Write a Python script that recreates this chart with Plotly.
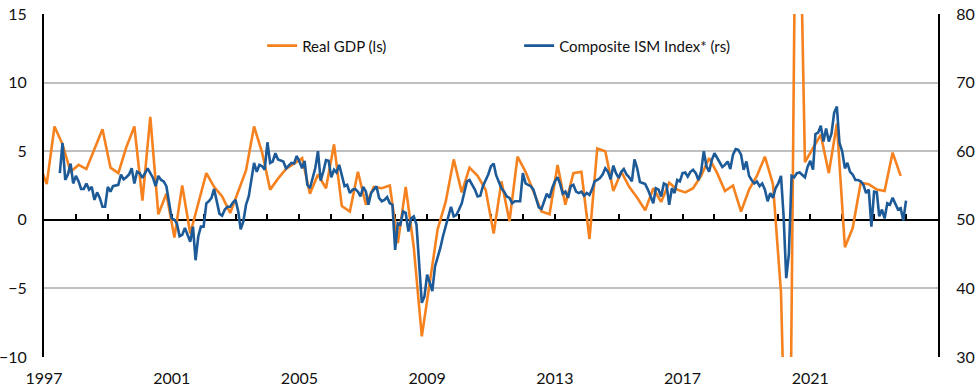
import pandas as pd
import plotly.graph_objects as go

# ---------------- data ----------------
gdp_start_quarter = "1996Q4"
gdp_growth = [
    4.2,
    2.6, 6.8, 5.5, 3.5,      # 1997
    4.0, 3.7, 5.1, 6.6,      # 1998
    3.8, 3.4, 5.3, 6.8,      # 1999
    1.4, 7.5, 0.4, 1.9,      # 2000
    -1.3, 2.5, -1.0, 1.3,    # 2001
    3.4, 2.4, 1.7, 0.5,      # 2002
    2.0, 3.6, 6.8, 4.9,      # 2003
    2.2, 3.0, 3.7, 4.1,      # 2004
    4.5, 1.9, 3.3, 2.3,      # 2005
    5.5, 1.0, 0.6, 3.5,      # 2006
    1.1, 2.4, 2.3, 2.5,      # 2007
    -1.7, 2.4, -2.0, -8.5,   # 2008
    -4.6, -0.7, 1.3, 4.4,    # 2009
    2.0, 3.8, 3.2, 2.2,      # 2010
    -1.0, 2.8, -0.1, 4.6,    # 2011
    3.5, 2.0, 0.6, 0.4,      # 2012
    4.0, 1.1, 3.4, 3.5,      # 2013
    -1.4, 5.2, 5.0, 2.1,     # 2014
    3.5, 2.4, 1.6, 0.7,      # 2015
    2.3, 1.3, 2.7, 2.2,      # 2016
    2.0, 2.3, 3.2, 4.5,      # 2017
    3.4, 2.1, 2.5, 0.6,      # 2018
    2.2, 3.2, 4.6, 2.6,      # 2019
    -5.3, -28.0, 34.8, 4.2,  # 2020
    5.2, 6.2, 3.4, 7.0,      # 2021
    -2.0, -0.6, 2.7, 2.6,    # 2022
    2.2, 2.1, 4.9, 3.2,      # 2023
]

ism_start_month = "1997-07"
ism_composite = [
    56.8, 61.2, 55.8, 56.6, 58.2, 55.3,                                  # 1997 H2
    56.4, 55.6, 54.5, 54.5, 55.3, 54.4, 54.8, 52.9, 54.0, 53.2, 51.9, 51.9,  # 1998
    54.8, 54.1, 54.9, 55.0, 55.1, 56.6, 55.9, 56.2, 56.6, 57.5, 55.3, 57.0,  # 1999
    56.8, 56.1, 56.8, 57.5, 56.8, 56.1, 54.9, 56.4, 55.8, 55.6, 54.9, 52.7,  # 2000
    50.2, 50.0, 49.5, 47.6, 47.8, 48.8, 47.8, 46.8, 49.0, 44.1, 47.6, 49.0,  # 2001
    49.0, 52.4, 52.7, 53.2, 54.5, 52.4, 50.9, 50.6, 51.5, 51.9, 51.9, 52.5,  # 2002
    52.9, 51.2, 48.6, 49.8, 52.2, 53.4, 56.2, 58.3, 57.0, 58.0, 57.8, 57.3,  # 2003
    61.3, 58.3, 58.5, 59.7, 58.8, 58.7, 58.5, 57.5, 57.9, 58.3, 58.2, 59.3,  # 2004
    58.5, 57.5, 58.6, 55.1, 54.6, 56.2, 57.5, 60.0, 55.7, 57.0, 58.7, 58.6,  # 2005
    56.2, 57.3, 56.9, 58.0, 56.3, 54.9, 55.1, 53.9, 54.4, 54.5, 54.1, 53.4,  # 2006
    54.8, 54.1, 52.2, 53.9, 54.4, 54.9, 53.2, 52.7, 52.9, 53.3, 52.4, 52.2,  # 2007
    45.6, 49.5, 49.3, 51.2, 51.0, 48.3, 50.2, 50.5, 49.3, 43.2, 37.9, 38.8,  # 2008
    42.0, 40.8, 39.6, 43.2, 44.4, 45.9, 47.6, 49.0, 50.2, 51.9, 50.5, 50.7,  # 2009
    51.5, 52.4, 53.9, 55.6, 55.8, 55.1, 54.4, 53.4, 53.5, 54.9, 55.8, 56.6,  # 2010
    57.8, 58.2, 56.5, 55.5, 54.6, 54.1, 53.4, 53.2, 52.4, 52.7, 52.7, 52.7,  # 2011
    56.8, 55.3, 55.1, 54.9, 54.4, 52.9, 51.8, 51.6, 52.9, 53.8, 53.2, 54.6,  # 2012
    55.6, 56.2, 55.3, 53.8, 54.1, 53.2, 54.9, 55.1, 54.1, 53.9, 54.1, 53.5,  # 2013
    53.9, 53.6, 54.4, 55.6, 55.8, 56.1, 56.6, 57.5, 57.0, 55.9, 57.9, 56.8,  # 2014
    56.1, 57.0, 57.4, 56.6, 56.2, 55.6, 58.8, 57.5, 55.5, 55.4, 55.2, 54.4,  # 2015
    53.4, 52.4, 54.6, 54.4, 53.4, 55.3, 55.1, 52.2, 54.6, 53.9, 55.8, 55.6,  # 2016
    56.8, 56.9, 56.3, 57.0, 57.3, 56.8, 55.8, 57.0, 60.0, 57.8, 57.0, 58.7,  # 2017
    59.7, 59.0, 58.3, 57.7, 58.0, 58.5, 57.4, 59.5, 60.3, 60.2, 59.5, 57.3,  # 2018
    58.5, 56.4, 55.8, 55.3, 55.6, 54.9, 55.3, 54.4, 52.7, 53.9, 53.2, 54.6,  # 2019
    55.3, 56.4, 50.7, 41.5, 45.0, 56.4, 56.2, 56.8, 56.9, 56.6, 56.2, 57.7,  # 2020
    58.6, 57.3, 62.5, 62.7, 63.7, 61.4, 63.3, 61.4, 62.6, 65.6, 66.5, 61.2,  # 2021
    60.0, 57.5, 58.3, 57.0, 56.6, 55.8, 55.8, 55.6, 55.1, 53.9, 54.4, 49.0,  # 2022
    54.1, 54.0, 50.5, 51.5, 50.2, 52.4, 52.2, 53.2, 52.4, 51.5, 51.7, 49.9,  # 2023
    52.8,                                                                # 2024
]

year_labels = [1997, 2001, 2005, 2009, 2013, 2017, 2021]
gdp_name = "Real GDP (ls)"
ism_name = "Composite ISM Index* (rs)"

# ---------------- dates ----------------
quarters = pd.period_range(gdp_start_quarter, periods=len(gdp_growth), freq="Q")
gdp_dates = [(q.asfreq("M", "start") + 1).to_timestamp() for q in quarters]
ism_dates = pd.period_range(ism_start_month, periods=len(ism_composite), freq="M").to_timestamp()

ORANGE = "#F5821F"
BLUE = "#1D5A98"
FONT = "Lato, 'Open Sans', sans-serif"

fig = go.Figure()
fig.add_trace(go.Scatter(
    x=gdp_dates, y=gdp_growth, name=gdp_name, mode="lines",
    line=dict(color=ORANGE, width=2.6), xaxis="x", yaxis="y",
))
fig.add_trace(go.Scatter(
    x=ism_dates, y=ism_composite, name=ism_name, mode="lines",
    line=dict(color=BLUE, width=2.6), xaxis="x2", yaxis="y2",
))

x_range = ["1997-01-01", "2025-01-01"]

fig.update_layout(
    width=979, height=389,
    margin=dict(l=44, r=41, t=14, b=32, autoexpand=False),
    paper_bgcolor="white", plot_bgcolor="white",
    font=dict(family=FONT, size=16, color="#111111"),
    showlegend=True,
    legend=dict(
        orientation="h", x=0.244, xanchor="left", y=0.907, yanchor="middle",
        font=dict(family=FONT, size=15, color="#111111"),
        bgcolor="rgba(0,0,0,0)", entrywidth=212, entrywidthmode="pixels",
    ),
    xaxis=dict(
        type="date", range=x_range, automargin=False,
        tickvals=[f"{y}-01-01" for y in year_labels],
        ticktext=[str(y) for y in year_labels],
        showgrid=False, zeroline=False, showline=False,
        ticks="outside", ticklen=7, tickcolor="rgba(0,0,0,0)",
        tickfont=dict(size=16),
    ),
    xaxis2=dict(
        type="date", matches="x", overlaying="x", anchor="free", position=0.4,
        automargin=False,
        showgrid=False, zeroline=False, showticklabels=False,
        showline=True, linecolor="black", linewidth=2,
        ticks="inside", ticklen=5, tickwidth=1.5, tickcolor="black",
        tick0="1997-01-01", dtick="M12", layer="below traces",
    ),
    yaxis=dict(
        range=[-10, 15], dtick=5, tick0=0, automargin=False,
        showgrid=True, gridcolor="#BFBFBF", gridwidth=1.6,
        zeroline=False,
        showline=True, linecolor="black", linewidth=2,
        ticks="outside", ticklen=12, tickcolor="rgba(0,0,0,0)",
        tickfont=dict(size=16),
    ),
    yaxis2=dict(
        range=[30, 80], dtick=10, tick0=30, overlaying="y", side="right",
        anchor="x", automargin=False, showgrid=False, zeroline=False,
        showline=True, linecolor="black", linewidth=2,
        ticks="outside", ticklen=13, tickcolor="rgba(0,0,0,0)",
        tickfont=dict(size=16),
    ),
)

fig.write_html(
    "out.html",
    config={"displayModeBar": False},
    post_script="document.body.style.margin='0';document.body.style.padding='0';",
)
